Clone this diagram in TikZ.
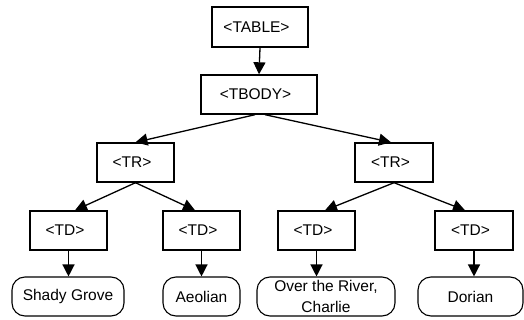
\documentclass[tikz,border=0pt]{standalone}
\usepackage{fontspec}
\setmainfont{Liberation Sans}
\usetikzlibrary{arrows.meta}
\begin{document}
\begin{tikzpicture}[x=1pt,y=-1pt,
  tag/.style={draw, line width=1.4pt, inner sep=0pt, font=\fontsize{15.5}{18}\selectfont},
  leaf/.style={draw, line width=1.1pt, inner sep=0pt, rounded corners=13pt, font=\fontsize{15.5}{21}\selectfont, align=center},
  conn/.style={line width=1.3pt, -{Triangle[length=12pt,width=12pt]}}]
\useasboundingbox (0,0) rectangle (524,320);
\newcommand{\tg}[1]{#1\hspace*{7pt}}
\node[tag, minimum width=96pt, minimum height=40pt] (table) at (260,27) {\tg{<TABLE>}};
\node[tag, minimum width=116pt, minimum height=39pt] (tbody) at (259,94.5) {\tg{<TBODY>}};
\node[tag, minimum width=77pt, minimum height=39pt] (trl) at (135.5,162.5) {\tg{<TR>}};
\node[tag, minimum width=78pt, minimum height=39pt] (trr) at (394,162.5) {\tg{<TR>}};
\node[tag, minimum width=77pt, minimum height=39pt] (td1) at (68.5,230.5) {\tg{<TD>}};
\node[tag, minimum width=77pt, minimum height=39pt] (td2) at (201.5,230.5) {\tg{<TD>}};
\node[tag, minimum width=77pt, minimum height=39pt] (td3) at (316.5,230.5) {\tg{<TD>}};
\node[tag, minimum width=78pt, minimum height=39pt] (td4) at (474,230.5) {\tg{<TD>}};
\node[leaf, minimum width=112pt, minimum height=39pt] (l1) at (68,296.5) {Shady Grove};
\node[leaf, minimum width=77pt, minimum height=39pt] (l2) at (201.5,296.5) {Aeolian};
\node[leaf, minimum width=138pt, minimum height=39pt] (l3) at (326,296.5) {Over the River,\\Charlie};
\node[leaf, minimum width=105pt, minimum height=39pt] (l4) at (470.5,296.5) {Dorian};
\draw[conn] (table.south) -- (tbody.north);
\draw[conn] ([xshift=-4pt]tbody.south) -- (trl.north);
\draw[conn] ([xshift=6pt]tbody.south) -- ([xshift=-3pt]trr.north);
\draw[conn] (trl.south) -- ([xshift=6.5pt]td1.north);
\draw[conn] (trl.south) -- ([xshift=-6.5pt]td2.north);
\draw[conn] (trr.south) -- ([xshift=8.5pt]td3.north);
\draw[conn] (trr.south) -- ([xshift=-9pt]td4.north);
\draw[conn] (td1.south) -- (td1.south |- l1.north);
\draw[conn] (td2.south) -- (td2.south |- l2.north);
\draw[conn] (td3.south) -- (td3.south |- l3.north);
\draw[conn] (td4.south) -- (td4.south |- l4.north);
\end{tikzpicture}
\end{document}
